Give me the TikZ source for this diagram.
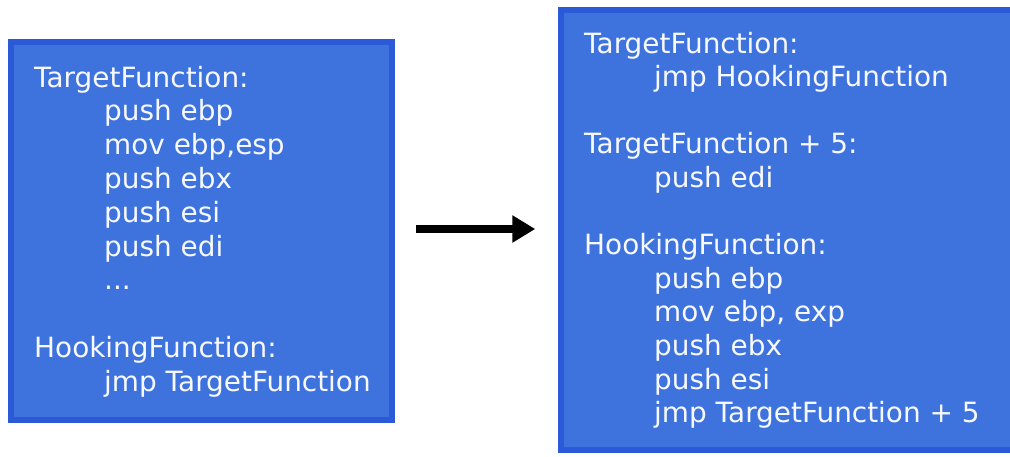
\documentclass[tikz,border=0pt]{standalone}
\usepackage{fontspec}
\setmainfont{DejaVu Sans}
\usetikzlibrary{arrows.meta}
\definecolor{boxfill}{RGB}{62,115,221}
\definecolor{boxline}{RGB}{42,90,216}
\tikzset{
  codebox/.style={draw=boxline, line width=5.5pt, fill=boxfill, inner sep=0pt},
  codeline/.style={anchor=base west, inner sep=0pt, text=white!96!boxfill, font=\fontsize{27.9}{33.8}\selectfont},
  hookarrow/.style={line width=7.5pt, -{Triangle[length=23pt,width=26pt]}}
}
\begin{document}
\begin{tikzpicture}[x=1pt,y=-1pt]
\useasboundingbox (0,0) rectangle (1010,456);
\clip (0,0) rectangle (1010,456);
\node[codebox, minimum width=381pt, minimum height=378pt] (before) at (201.5,231) {};
\node[codebox, minimum width=456pt, minimum height=440pt] (after) at (789,230) {};
% original code
\foreach \n/\lvl/\txt in {0/0/TargetFunction:, 1/1/push ebp, 2/1/{mov ebp,esp}, 3/1/push ebx, 4/1/push esi, 5/1/push edi, 6/1/{.{}.{}.}, 8/0/HookingFunction:, 9/1/jmp TargetFunction}
  \node[codeline] (before-\n) at (34+70*\lvl, 87+33.8*\n) {\txt};
% hooked code
\foreach \n/\lvl/\txt in {0/0/TargetFunction:, 1/1/jmp HookingFunction, 3/0/TargetFunction + 5:, 4/1/push edi, 6/0/HookingFunction:, 7/1/push ebp, 8/1/{mov ebp, exp}, 9/1/push ebx, 10/1/push esi, 11/1/jmp TargetFunction + 5}
  \node[codeline] (after-\n) at (584+70*\lvl, 53+33.6*\n) {\txt};
\draw[hookarrow] ([xshift=21pt,yshift=2pt]before.east) -- ([xshift=-23pt,yshift=2pt]before.east -| after.west);
\end{tikzpicture}
\end{document}
